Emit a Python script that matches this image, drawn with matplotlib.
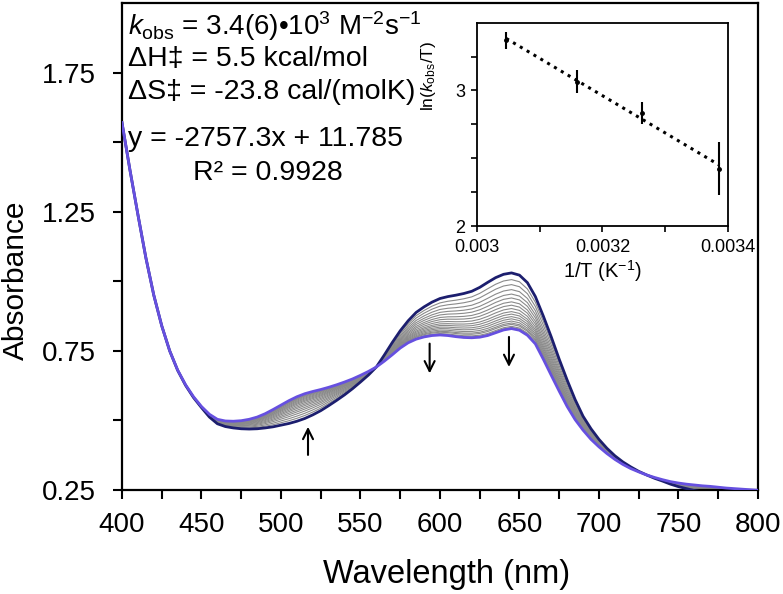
import numpy as np
import matplotlib
matplotlib.use("Agg")
import matplotlib.pyplot as plt

plt.rcParams['font.family'] = ['Liberation Sans', 'DejaVu Sans']
plt.rcParams['mathtext.fontset'] = 'custom'
plt.rcParams['mathtext.rm'] = 'Liberation Sans'
plt.rcParams['mathtext.it'] = 'Liberation Sans:italic'
plt.rcParams['mathtext.bf'] = 'Liberation Sans:bold'

# ---------------- data ----------------
wavelength = list(range(400, 801, 5))

abs_initial = [1.57, 1.40, 1.24, 1.085, 0.95, 0.84, 0.75, 0.68, 0.626, 0.582,   # 400-445
               0.546, 0.512, 0.488, 0.478, 0.473, 0.470, 0.469, 0.470, 0.473, 0.477,  # 450-495
               0.483, 0.489, 0.497, 0.507, 0.520, 0.535, 0.553, 0.572, 0.592, 0.614,  # 500-545
               0.638, 0.663, 0.692, 0.735, 0.780, 0.822, 0.858, 0.888, 0.908, 0.925,  # 550-595
               0.938, 0.945, 0.950, 0.956, 0.964, 0.978, 0.996, 1.013, 1.025, 1.030,  # 600-645
               1.022, 0.995, 0.945, 0.875, 0.800, 0.720, 0.645, 0.575, 0.515, 0.470,  # 650-695
               0.432, 0.400, 0.373, 0.351, 0.333, 0.317, 0.304, 0.292, 0.282, 0.271,  # 700-745
               0.262, 0.255, 0.248, 0.243, 0.238, 0.235, 0.232, 0.230, 0.228, 0.226,  # 750-795
               0.225]

abs_final = [1.57, 1.40, 1.24, 1.085, 0.95, 0.84, 0.75, 0.681, 0.628, 0.585,     # 400-445
             0.550, 0.522, 0.504, 0.498, 0.497, 0.499, 0.504, 0.512, 0.524, 0.539,  # 450-495
             0.555, 0.571, 0.585, 0.596, 0.604, 0.611, 0.619, 0.628, 0.638, 0.649,  # 500-545
             0.662, 0.676, 0.692, 0.713, 0.736, 0.760, 0.779, 0.792, 0.800, 0.805,  # 550-595
             0.807, 0.805, 0.801, 0.798, 0.797, 0.799, 0.805, 0.815, 0.825, 0.830,  # 600-645
             0.824, 0.806, 0.775, 0.720, 0.662, 0.605, 0.550, 0.503, 0.465, 0.432,  # 650-695
             0.405, 0.381, 0.360, 0.342, 0.327, 0.315, 0.304, 0.295, 0.287, 0.280,  # 700-745
             0.275, 0.271, 0.268, 0.265, 0.263, 0.260, 0.257, 0.255, 0.253, 0.251,  # 750-795
             0.249]

# absorbance at 645 nm of the intermediate traces
peak_intermediate = [1.006, 0.988, 0.970, 0.954, 0.940, 0.926, 0.914, 0.902, 0.891,
                     0.882, 0.873, 0.865, 0.857, 0.850, 0.845, 0.838, 0.834]
peak_wavelength = 645

# Eyring inset
inv_T = [0.003047, 0.003160, 0.003263, 0.003386]
ln_k_T = [3.371, 3.066, 2.834, 2.422]
ln_err = [0.063, 0.088, 0.082, 0.195]
fit_slope = -2757.3
fit_intercept = 11.785

# arrows (wavelength, start, end)
arrows = [(517, 0.376, 0.477), (593.5, 0.776, 0.669), (643.4, 0.800, 0.692)]

# ---------------- figure ----------------
fig = plt.figure(figsize=(7.83, 5.94), dpi=100)
ax = fig.add_axes([0.1558, 0.1751, 0.8122, 0.8199])

wl = np.array(wavelength)
a0 = np.array(abs_initial)
af = np.array(abs_final)
i_pk = wavelength.index(peak_wavelength)
for p in peak_intermediate:
    f = (abs_initial[i_pk] - p) / (abs_initial[i_pk] - abs_final[i_pk])
    ax.plot(wl, a0 + (af - a0) * f, color='#8a8a8a', lw=0.8, zorder=2)
ax.plot(wl, a0, color='#1c1e6e', lw=2.0, zorder=3)
ax.plot(wl, af, color='#6650e0', lw=2.0, zorder=4)

for x, y0, y1 in arrows:
    ax.annotate('', xy=(x, y1), xytext=(x, y0),
                arrowprops=dict(arrowstyle='->', color='black', lw=1.5,
                                mutation_scale=18, shrinkA=0, shrinkB=0))

ax.set_xlim(400, 800)
ax.set_ylim(0.25, 2.0)
ax.set_xticks(np.arange(400, 801, 25))
ax.set_xticklabels([str(v) if v % 50 == 0 else '' for v in range(400, 801, 25)])
yt = [0.25, 0.5, 0.75, 1.0, 1.25, 1.5, 1.75]
ax.set_yticks(yt)
ax.set_yticklabels(['0.25', '', '0.75', '', '1.25', '', '1.75'])
ax.tick_params(direction='out', length=6.5, width=1.5, labelsize=20)
ax.tick_params(axis='x', pad=9)
ax.tick_params(axis='y', pad=12)
for s in ax.spines.values():
    s.set_linewidth(1.6)
ax.set_xlabel('Wavelength (nm)', fontsize=23.5, va='top')
ax.xaxis.set_label_coords(0.51, -0.142)
ax.set_ylabel('Absorbance', fontsize=21.5)
ax.yaxis.set_label_coords(-0.145, 0.43)

tx = 128 / 783
fig.text(tx, 1 - 35 / 594, r'$k_{\rm obs}$ = 3.4(6)•10$^{3}$ M$^{-2}$s$^{-1}$', fontsize=20, va='baseline')
fig.text(tx, 1 - 66 / 594, 'ΔH‡ = 5.5 kcal/mol', fontsize=20.5, va='baseline')
fig.text(tx, 1 - 99 / 594, 'ΔS‡ = -23.8 cal/(molK)', fontsize=20.5, va='baseline')
fig.text(tx, 1 - 146 / 594, 'y = -2757.3x + 11.785', fontsize=20.5, va='baseline')
fig.text(193 / 783, 1 - 180 / 594, 'R² = 0.9928', fontsize=20.5, va='baseline')

# ---------------- inset ----------------
ins = fig.add_axes([0.6088, 0.6195, 0.3213, 0.3423])
ins.errorbar(inv_T, ln_k_T, yerr=ln_err, fmt='o', color='black', ms=2.5,
             elinewidth=1.5, capsize=0, zorder=3)
xf = np.array([inv_T[0], inv_T[-1]])
ins.plot(xf, fit_slope * xf + fit_intercept, color='black', ls=(0, (1, 1.6)), lw=2.2, zorder=2)
ins.set_xlim(0.003, 0.0034)
ins.set_ylim(2, 3.5)
ins.set_xticks([0.003, 0.0031, 0.0032, 0.0033, 0.0034])
ins.set_xticklabels(['0.003', '', '0.0032', '', '0.0034'])
ins.set_yticks([2, 2.25, 2.5, 2.75, 3, 3.25])
ins.set_yticklabels(['2', '', '', '', '3', ''])
ins.tick_params(direction='out', length=4, width=1.2, labelsize=13)
ins.tick_params(axis='x', pad=5)
ins.tick_params(axis='y', pad=4)
for s in ins.spines.values():
    s.set_linewidth(1.3)
ins.set_xlabel('1/T (K$^{-1}$)', fontsize=14.5, va='top')
ins.xaxis.set_label_coords(0.5, -0.16)
ins.set_ylabel(r'ln($k_{\rm obs}$/T)', fontsize=12.5)
ins.yaxis.set_label_coords(-0.155, 0.74)

fig.savefig('out.png', dpi=100)
